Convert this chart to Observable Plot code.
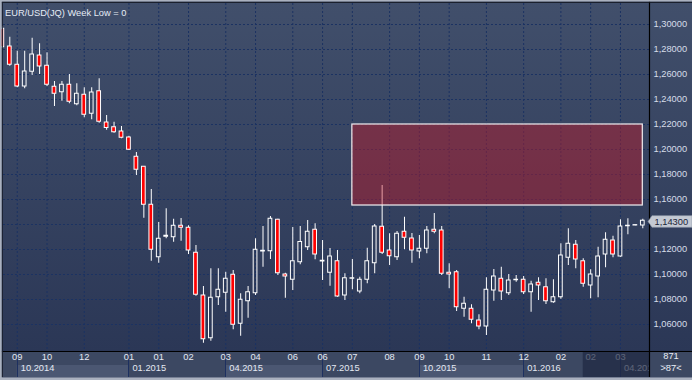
<!DOCTYPE html>
<html><head><meta charset="utf-8">
<script src="https://cdn.jsdelivr.net/npm/d3@7"></script>
<script src="https://cdn.jsdelivr.net/npm/@observablehq/plot@0.6"></script>
<style>
html,body{margin:0;padding:0;background:#2c3856;overflow:hidden;}
#chart svg{display:block;}
</style></head><body><div id="chart"></div>
<script>
const title = "EUR/USD(JQ) Week Low = 0";
const opens = [1.2966,1.2824,1.2678,1.2504,1.2622,1.2752,1.267,1.2502,1.2458,1.2518,
1.2362,1.2438,1.2286,1.2466,1.2216,1.2178,1.2144,1.2096,1.1942,1.1862,
1.1558,1.1138,1.1302,1.1298,1.139,1.1374,1.1174,1.0832,1.049,1.0818,
1.0854,1.0998,1.0606,1.0786,1.085,1.1184,1.1186,1.1438,1.1,1.0958,
1.1098,1.1218,1.1358,1.1104,1.1014,1.1106,1.0832,1.0966,1.0864,1.0958,
1.109,1.1382,1.1192,1.1138,1.1342,1.1288,1.1184,1.1206,1.1358,1.1352,
1.1014,1.1018,1.0726,1.0726,1.0632,1.0584,1.0872,1.0966,1.085,1.0954,
1.0958,1.0858,1.0934,1.0898,1.0778,1.0818,1.1134,1.1238,1.1106,1.0912,
1.0984,1.116,1.1272,1.1144,1.1386,1.1392,1.1392];
const highs = [1.2984,1.2898,1.2786,1.2786,1.289,1.2846,1.2774,1.2544,1.2544,1.26,
1.2526,1.2494,1.2494,1.2566,1.2272,1.2218,1.2184,1.2106,1.1976,1.1864,
1.168,1.1416,1.1526,1.1442,1.1448,1.139,1.1232,1.0904,1.1046,1.1046,
1.1018,1.1032,1.0846,1.0904,1.1286,1.1384,1.1464,1.1442,1.101,1.1376,
1.1384,1.1432,1.1406,1.1272,1.1208,1.1192,1.1006,1.112,1.0978,1.121,
1.14,1.1712,1.1326,1.1344,1.1458,1.1328,1.1312,1.1384,1.1488,1.1384,
1.1086,1.1032,1.0818,1.0758,1.0678,1.0974,1.104,1.1058,1.1,1.0992,
1.0984,1.0946,1.0974,1.0966,1.0958,1.1246,1.1366,1.1272,1.1126,1.1038,
1.1218,1.1334,1.1306,1.1438,1.1446,1.1398,1.1442];
const lows = [1.2808,1.2666,1.2494,1.2486,1.2592,1.26,1.2504,1.2344,1.2386,1.2366,
1.235,1.2254,1.2238,1.221,1.2154,1.213,1.2086,1.1992,1.1792,1.145,
1.1106,1.109,1.1286,1.1258,1.1266,1.116,1.0826,1.045,1.0466,1.0752,
1.0698,1.0558,1.0506,1.065,1.0832,1.1058,1.112,1.0992,1.081,1.0872,
1.1078,1.1192,1.1118,1.0952,1.0906,1.0818,1.0792,1.0878,1.0846,1.0926,
1.1006,1.116,1.1072,1.1112,1.1198,1.109,1.1126,1.1166,1.1326,1.0992,
1.0886,1.0704,1.0658,1.0606,1.0558,1.0512,1.0786,1.0792,1.0832,1.0938,
1.084,1.0698,1.0792,1.076,1.077,1.0802,1.1072,1.1046,1.0898,1.0806,
1.0814,1.1054,1.1134,1.1138,1.1318,1.139,1.1366];
const closes = [1.2818,1.2678,1.2504,1.2624,1.276,1.2664,1.2518,1.2446,1.2518,1.2382,
1.2446,1.2278,1.2456,1.2222,1.2172,1.2138,1.2094,1.1998,1.1838,1.1558,
1.1198,1.1286,1.131,1.139,1.1374,1.1192,1.0838,1.0482,1.0814,1.0878,
1.0966,1.0598,1.0798,1.0858,1.1198,1.119,1.1446,1.101,1.0984,1.1106,
1.126,1.1342,1.116,1.111,1.1144,1.0824,1.097,1.097,1.0958,1.1106,
1.1384,1.1174,1.1146,1.1326,1.1294,1.1192,1.1206,1.1352,1.1342,1.1006,
1.1,1.0738,1.0766,1.0638,1.0584,1.0878,1.0984,1.0864,1.0952,1.0958,
1.0858,1.092,1.0912,1.0786,1.0818,1.1152,1.1246,1.112,1.0926,1.1,
1.1144,1.1278,1.116,1.1384,1.139,1.1395,1.143];
const yTicks = [1.30,1.28,1.26,1.24,1.22,1.20,1.18,1.16,1.14,1.12,1.10,1.08,1.06];
const xTickIdx = [3,7,12,18,22,26,31,35,40,44,48,53,57,61,66,71,76,80,84];
const xTickLabels = ["09","10","12","01","01","02","03","04","06","06","07","08","09","10","11","12","02","02","03"];
const bandIdx = [3,18,31,44,57,71,84];
const bandLabels = ["10.2014","01.2015","04.2015","07.2015","10.2015","01.2016","04.201"];
const zoneX = [48, 87];
const zoneY = [1.22, 1.1552];
const lastPrice = 1.143;
const fadeFrom = 79;
const infoTop = "871";
const infoBottom = ">87<";

const candles = opens.map((o, k) => ({i: k + 1, open: o, high: highs[k], low: lows[k], close: closes[k]}));
const zone = [{x1: zoneX[0], x2: zoneX[1], y1: zoneY[0], y2: zoneY[1]}];
const FONT = "'Liberation Sans', Arial, sans-serif";
const FS = 9.3;
const fmt = d => d.toFixed(5).replace(".", ",");
const yLabelTicks = yTicks.filter(d => Math.abs(d - lastPrice) > 0.006);

function axisBack(index, scales, values, dims) {
  const {width, height, marginBottom} = dims;
  const x = scales.x;
  const top = height - marginBottom, bot = height - 3;
  const g = d3.create("svg:g");
  g.append("rect").attr("x", 0).attr("y", top).attr("width", width).attr("height", bot - top).attr("fill", "#3c4862");
  for (let k = 0; k + 1 < bandIdx.length; k += 2) {
    g.append("rect").attr("x", x(bandIdx[k])).attr("y", top + 14)
      .attr("width", x(bandIdx[k + 1]) - x(bandIdx[k])).attr("height", bot - top - 14).attr("fill", "#4b5772");
  }
  bandIdx.forEach(b => g.append("line").attr("x1", Math.round(x(b)) + 0.5).attr("x2", Math.round(x(b)) + 0.5)
    .attr("y1", top).attr("y2", bot).attr("stroke", "#1d3060"));
  return g.node();
}
function axisOverlay(index, scales, values, dims) {
  const {width, height, marginBottom, marginRight} = dims;
  const x = scales.x;
  const top = height - marginBottom, bot = height - 3;
  const g = d3.create("svg:g");
  const xs = x(fadeFrom), xe = width - marginRight;
  g.append("rect").attr("x", xs).attr("y", top).attr("width", xe - xs).attr("height", bot - top)
    .attr("fill", "rgb(31,39,65)").attr("fill-opacity", 0.69);
  g.append("rect").attr("x", xe).attr("y", top).attr("width", width - xe).attr("height", bot - top).attr("fill", "#3c4862");
  g.append("line").attr("x1", xe + 11).attr("x2", xe + 32).attr("y1", top + 14.5).attr("y2", top + 14.5).attr("stroke", "#5c6882");
  return g.node();
}
function frameLines(index, scales, values, dims) {
  const {width, height, marginBottom, marginRight} = dims;
  const g = d3.create("svg:g");
  const top = height - marginBottom, xe = width - marginRight;
  g.append("line").attr("x1", 0).attr("x2", width).attr("y1", top + 0.5).attr("y2", top + 0.5).attr("stroke", "#000").attr("stroke-width", 1.2);
  g.append("line").attr("x1", xe + 0.5).attr("x2", xe + 0.5).attr("y1", 0).attr("y2", height - 3).attr("stroke", "#000").attr("stroke-width", 1.2);
  g.append("rect").attr("x", 0).attr("y", 0).attr("width", width).attr("height", 1.7).attr("fill", "#aab1bf");
  g.append("line").attr("x1", 0).attr("x2", width).attr("y1", 2.3).attr("y2", 2.3).attr("stroke", "#11151f");
  g.append("rect").attr("x", 0).attr("y", 0).attr("width", 1.8).attr("height", height).attr("fill", "#aab1bf");
  g.append("line").attr("x1", 2.4).attr("x2", 2.4).attr("y1", 2).attr("y2", height - 3).attr("stroke", "#1a2030");
  g.append("rect").attr("x", 0).attr("y", height - 2.6).attr("width", width).attr("height", 2.6).attr("fill", "#aab1bf");
  return g.node();
}
function priceTag(index, scales, values, dims) {
  const {width, marginRight} = dims;
  const c = scales.y(lastPrice) + 1.2;
  const xe = width - marginRight;
  const g = d3.create("svg:g");
  g.append("path").attr("d", `M${xe - 1},${c} L${xe + 3},${c - 5.8} L${width},${c - 5.8} L${width},${c + 5.8} L${xe + 3},${c + 5.8} Z`)
    .attr("fill", "#c4c9d3").attr("stroke", "#8f98aa").attr("stroke-width", 0.6);
  g.append("text").attr("x", xe + 5.5).attr("y", c).attr("dy", "0.35em").attr("font-size", FS)
    .attr("text-anchor", "start").attr("font-family", FONT).attr("fill", "#1b2438").text(fmt(lastPrice));
  return g.node();
}

const chart = Plot.plot({
  width: 692, height: 380,
  marginTop: 3, marginLeft: 3, marginRight: 43, marginBottom: 29,
  x: {type: "linear", domain: [2, 87], range: [9.3, 642.3], axis: null},
  y: {type: "linear", domain: [1.06, 1.30], range: [324, 24], axis: null},
  style: {background: "linear-gradient(to bottom, #414f6b 0px, #2b3756 351px)", fontFamily: FONT, overflow: "visible"},
  marks: [
    Plot.ruleY(yTicks, {y: d => d, stroke: "#1b3262", strokeDasharray: "2,2"}),
    Plot.ruleX(xTickIdx, {x: d => d, stroke: "#1b3262", strokeDasharray: "2,2"}),
    Plot.ruleX(candles, {x: "i", y1: "high", y2: d => Math.max(d.open, d.close), stroke: "white"}),
    Plot.ruleX(candles, {x: "i", y1: d => Math.min(d.open, d.close), y2: "low", stroke: "white"}),
    Plot.rect(candles, {filter: d => d.close < d.open, x1: d => d.i - 0.25, x2: d => d.i + 0.25, y1: "open", y2: "close", fill: "#ff0000", stroke: "white"}),
    Plot.rect(candles, {filter: d => d.close >= d.open, x1: d => d.i - 0.25, x2: d => d.i + 0.25, y1: "open", y2: "close", fill: "none", stroke: "white"}),
    Plot.rect(zone, {x1: "x1", x2: "x2", y1: "y1", y2: "y2", fill: "rgb(199,21,35)", fillOpacity: 0.42, stroke: "#f4f0f2", strokeWidth: 1.2}),
    axisBack,
    Plot.text(xTickIdx, {x: d => d, text: (d, i) => xTickLabels[i], frameAnchor: "bottom", dy: 8.5, fill: "#e4e9f2", fontSize: FS}),
    Plot.text(bandIdx, {x: d => d, text: (d, i) => bandLabels[i], frameAnchor: "bottom", textAnchor: "start", dx: 3.5, dy: 19.8, fill: "#e4e9f2", fontSize: FS}),
    axisOverlay,
    Plot.text([infoTop], {text: d => d, frameAnchor: "bottom-right", textAnchor: "middle", dx: 21.5, dy: 7.5, fill: "#e8edf5", fontSize: FS}),
    Plot.text([infoBottom], {text: d => d, frameAnchor: "bottom-right", textAnchor: "middle", dx: 21.5, dy: 19.8, fill: "#e8edf5", fontSize: FS}),
    frameLines,
    Plot.text(yLabelTicks, {y: d => d, text: fmt, frameAnchor: "right", textAnchor: "start", dx: 4, fill: "#d6dde9", fontSize: FS}),
    priceTag,
    Plot.text([title], {text: d => d, frameAnchor: "top-left", textAnchor: "start", dx: 1.5, dy: 5.5, fill: "#e6ecf6", fontSize: FS})
  ]
});
document.getElementById("chart").appendChild(chart);
</script>
</body></html>
